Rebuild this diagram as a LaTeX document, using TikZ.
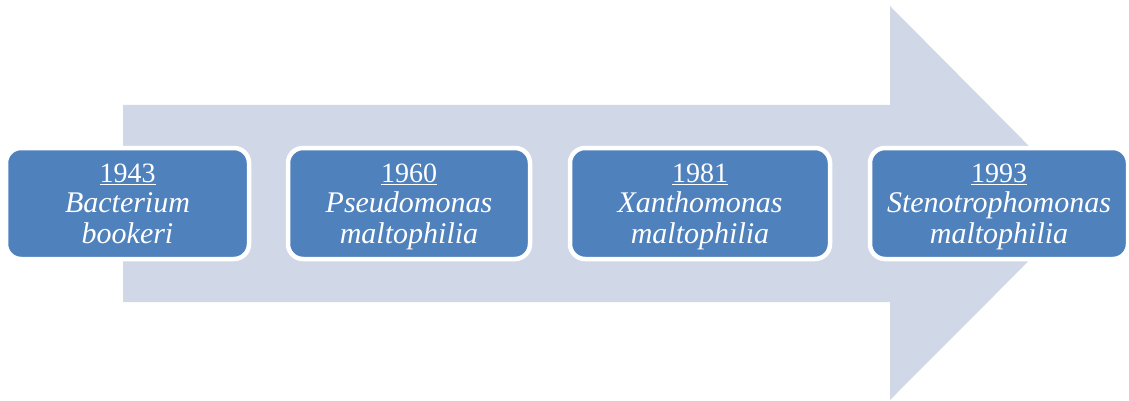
\documentclass[tikz,border=0pt]{standalone}
\usepackage{fontspec}
\setmainfont{Liberation Serif}
\definecolor{arrowfill}{HTML}{D0D8E8}
\definecolor{boxfill}{HTML}{4F81BD}
\newcommand{\spname}[1]{{\fontsize{30}{30.5}\selectfont\itshape #1}}
\begin{document}
\begin{tikzpicture}[x=1pt,y=-1pt,
  yearbox/.style={draw=white, line width=4.5pt, fill=boxfill, rounded corners=15pt,
    minimum height=111pt, text=white, align=center, inner sep=0pt, text depth=0pt,
    font=\fontsize{28}{30.5}\selectfont}]
\useasboundingbox (0,0) rectangle (1129,401);
\clip (0,0) rectangle (1129,401);
% big arrow
\fill[arrowfill] (123,105) -- (890,105) -- (890,6) -- (1086,203.5) -- (890,400)
  -- (890,302) -- (123,302) -- cycle;
% boxes
\node[yearbox, minimum width=243pt] (b1) at (127.5,203.5)
  {\underline{1943}\\\spname{Bacterium}\\\spname{bookeri}};
\node[yearbox, minimum width=242pt] (b2) at (409,203.5)
  {\underline{1960}\\\spname{Pseudomonas}\\\spname{maltophilia}};
\node[yearbox, minimum width=260pt] (b3) at (700,203.5)
  {\underline{1981}\\\spname{Xanthomonas}\\\spname{maltophilia}};
\node[yearbox, minimum width=258pt] (b4) at (999,203.5)
  {\underline{1993}\\\spname{Stenotrophomonas}\\\spname{maltophilia}};
\end{tikzpicture}
\end{document}
